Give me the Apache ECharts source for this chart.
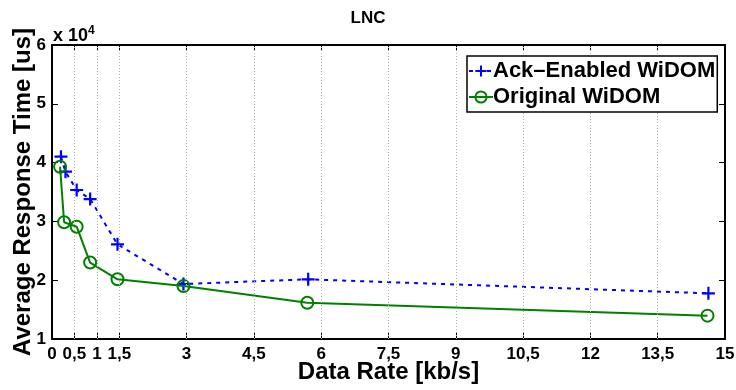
<!DOCTYPE html>
<html><head><meta charset="utf-8">
<script src="https://cdn.jsdelivr.net/npm/echarts@6/dist/echarts.min.js"></script>
<style>html,body{margin:0;padding:0;background:#fff}#c{width:736px;height:390px}</style>
</head><body><div id="c"></div>
<script>
const title = 'LNC';
const xLabel = 'Data Rate [kb/s]';
const yLabel = 'Average Response Time [us]';
const seriesNames = ['Ack\u2013Enabled WiDOM', 'Original WiDOM'];
const ackX = [0.2, 0.3, 0.55, 0.85, 1.46, 2.93, 5.71, 14.63];
const ackY = [41000, 38450, 35340, 33800, 26100, 19350, 20150, 17770];
const origX = [0.18, 0.27, 0.55, 0.85, 1.46, 2.93, 5.69, 14.61];
const origY = [39300, 29850, 29100, 23000, 20150, 19000, 16170, 13970];
const xTicks = [0, 0.5, 1, 1.5, 3, 4.5, 6, 7.5, 9, 10.5, 12, 13.5, 15];
const yTicks = [10000, 20000, 30000, 40000, 50000, 60000];

const FONT = '"Liberation Sans", Arial, sans-serif';
const chart = echarts.init(document.getElementById('c'), null, {renderer: 'canvas'});
const fmtX = v => String(v).replace('.', ',');
const plus = 'path://M0,5L10,5M5,0L5,10';

const baseX = {
  type: 'value', min: 0, max: 15, interval: 0.5,
  axisLine: {show: true, onZero: false, lineStyle: {color: '#000', width: 2}},
  axisTick: {show: true, inside: true, length: 6, customValues: xTicks, lineStyle: {color: '#000', width: 1}},
  splitLine: {show: false}
};
const baseY = {
  type: 'value', min: 10000, max: 60000, interval: 10000,
  axisLine: {show: true, onZero: false, lineStyle: {color: '#000', width: 2}},
  axisTick: {show: true, inside: true, length: 6, customValues: yTicks, lineStyle: {color: '#000', width: 1}},
  splitLine: {show: false}
};

chart.setOption({
  animation: false,
  backgroundColor: '#fff',
  textStyle: {fontFamily: FONT},
  title: {text: title, left: 'center', top: 5, textStyle: {fontFamily: FONT, fontWeight: 'bold', fontSize: 17, color: '#000'}},
  grid: {left: 52, right: 11, top: 45, bottom: 51, containLabel: false, outerBoundsMode: 'none'},
  xAxis: [
    Object.assign({}, baseX, {
      position: 'bottom',
      name: xLabel, nameLocation: 'middle', nameGap: 21, nameMoveOverlap: false,
      nameTextStyle: {fontFamily: FONT, fontWeight: 'bold', fontSize: 24, color: '#000'},
      axisLabel: {show: true, customValues: xTicks, formatter: fmtX, margin: 7, fontFamily: FONT, fontWeight: 'bold', fontSize: 17, color: '#000', hideOverlap: false}
    }),
    Object.assign({}, baseX, {position: 'top', axisLabel: {show: false}})
  ],
  yAxis: [
    Object.assign({}, baseY, {
      position: 'left',
      name: yLabel, nameLocation: 'middle', nameGap: 17, nameMoveOverlap: false,
      nameTextStyle: {fontFamily: FONT, fontWeight: 'bold', fontSize: 24, color: '#000'},
      axisLabel: {show: true, customValues: yTicks, formatter: v => String(v / 10000), margin: 6, fontFamily: FONT, fontWeight: 'bold', fontSize: 17, color: '#000'}
    }),
    Object.assign({}, baseY, {position: 'right', axisLabel: {show: false}})
  ],
  legend: {
    left: 467, top: 56, z: 50, zlevel: 1,
    orient: 'vertical', padding: [4, 2, 4, 1], itemGap: 4,
    itemWidth: 24, itemHeight: 14,
    borderColor: '#000', borderWidth: 1.5, backgroundColor: '#fff',
    textStyle: {fontFamily: FONT, fontWeight: 'bold', fontSize: 22, color: '#000', padding: [0, 0, 0, -5]},
    data: seriesNames
  },
  graphic: [{
    type: 'text', left: 53, top: 25,
    style: {
      text: '{a|x 10}{b|4}',
      rich: {
        a: {fontFamily: FONT, fontSize: 18, fontWeight: 'bold', fill: '#000', verticalAlign: 'bottom', lineHeight: 20},
        b: {fontFamily: FONT, fontSize: 12, fontWeight: 'bold', fill: '#000', verticalAlign: 'top', lineHeight: 20, padding: [0, 0, 8, 0]}
      }
    }
  }],
  series: [
    {
      name: 'grid', type: 'line', data: [], silent: true,
      markLine: {
        silent: true, symbol: ['none', 'none'], label: {show: false},
        lineStyle: {color: '#b0b0b0', type: [1, 2], width: 1},
        data: xTicks.filter(v => v > 0 && v < 15).map(v => ({xAxis: v}))
      }
    },
    {
      name: seriesNames[0], type: 'line', z: 3,
      data: ackX.map((x, i) => [x, ackY[i]]),
      symbol: plus, symbolSize: 13,
      lineStyle: {color: '#0000ff', width: 2, type: [4, 5]},
      itemStyle: {color: 'none', borderColor: '#0000ff', borderWidth: 2.2}
    },
    {
      name: seriesNames[1], type: 'line', z: 4,
      data: origX.map((x, i) => [x, origY[i]]),
      symbol: 'circle', symbolSize: 12,
      lineStyle: {color: '#008000', width: 2},
      itemStyle: {color: 'none', borderColor: '#008000', borderWidth: 2}
    }
  ]
});
</script></body></html>
